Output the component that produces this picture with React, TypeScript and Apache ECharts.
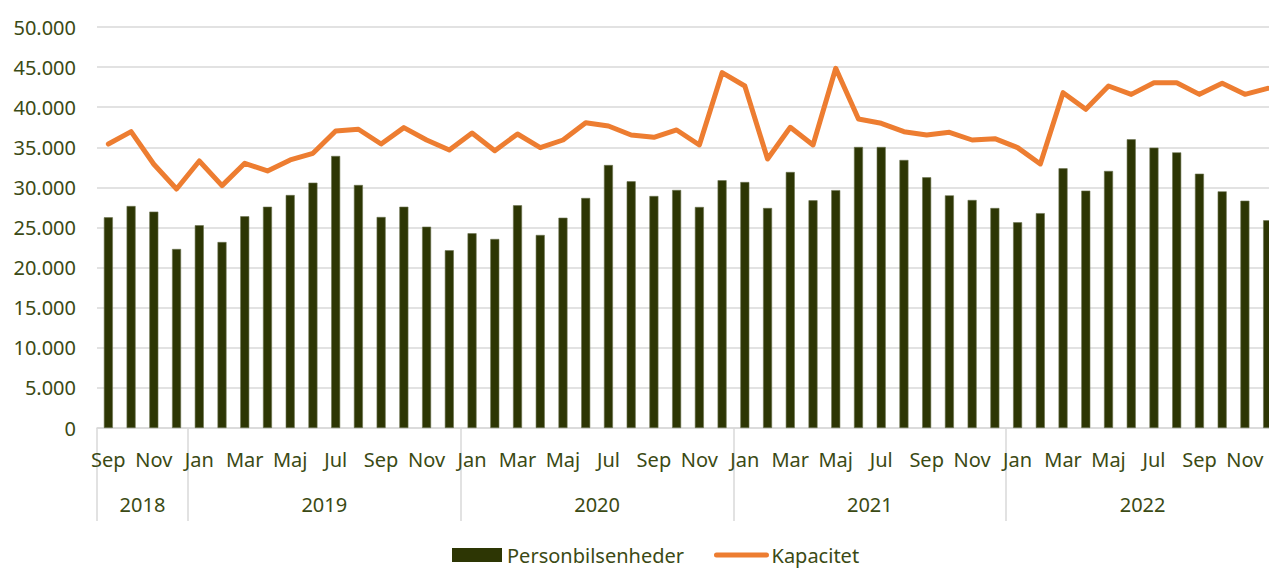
import React, { useEffect, useRef } from "react";
import * as echarts from "echarts";

const monthNames = ["Jan", "Feb", "Mar", "Apr", "Maj", "Jun", "Jul", "Aug", "Sep", "Okt", "Nov", "Dec"];
const years = ["2018", "2019", "2020", "2021", "2022"];

// Sep 2018 .. Dec 2022
const months: string[] = [
  "Sep", "Okt", "Nov", "Dec",
  ...monthNames, ...monthNames, ...monthNames, ...monthNames,
];
const monthYear: string[] = [
  "2018", "2018", "2018", "2018",
  ...monthNames.map(() => "2019"),
  ...monthNames.map(() => "2020"),
  ...monthNames.map(() => "2021"),
  ...monthNames.map(() => "2022"),
];

const personbilsenheder = [
  26270, 27680, 26980, 22320,
  25280, 23190, 26400, 27590, 29050, 30590, 33920, 30300, 26310, 27590, 25100, 22160,
  24280, 23570, 27770, 24070, 26220, 28680, 32790, 30760, 28930, 29680, 27560, 30890,
  30670, 27430, 31920, 28390, 29660, 35040, 35040, 33420, 31260, 29010, 28430, 27430,
  25650, 26790, 32380, 29600, 32050, 36000, 34960, 34370, 31710, 29510, 28340, 25900,
];

const kapacitet = [
  35410, 36950, 32880, 29800,
  33290, 30220, 33000, 32050, 33420, 34250, 37030, 37250, 35410, 37450, 35910, 34660,
  36780, 34580, 36660, 34960, 35910, 38070, 37660, 36530, 36240, 37160, 35290, 44310,
  42640, 33540, 37490, 35290, 44850, 38530, 37990, 36950, 36530, 36870, 35910, 36080,
  34960, 32920, 41810, 39740, 42640, 41600, 43060, 43060, 41600, 42980, 41600, 42350,
];

const yTicks = { min: 0, max: 50000, interval: 5000 };

const textColor = "#3B4A14";
const font = "Noto Sans";

export default function App() {
  const ref = useRef<HTMLDivElement>(null);
  useEffect(() => {
    if (!ref.current) return;
    const chart = echarts.init(ref.current, null, { renderer: "svg" });
    const boundaryIdx = new Set<number>();
    const labelIdx = new Map<number, string>();
    let start = 0;
    years.forEach((y) => {
      const n = monthYear.filter((m) => m === y).length;
      boundaryIdx.add(start);
      labelIdx.set(start + n / 2 - 1, y);
      start += n;
    });
    const plotWidth = 1279 - 97;
    const cat = plotWidth / months.length;
    chart.setOption({
      animation: false,
      grid: { left: 97, right: 0, top: 27, bottom: 140, containLabel: false },
      legend: {
        left: 447,
        top: 540,
        itemWidth: 50,
        itemHeight: 14,
        itemGap: 30,
        textStyle: { color: textColor, fontFamily: font, fontSize: 20 },
        data: [
          { name: "Personbilsenheder", icon: "rect", itemStyle: { borderWidth: 0 } },
          {
            name: "Kapacitet",
            itemStyle: { opacity: 0 },
            lineStyle: { width: 5, cap: "round", color: "#ED7D31" },
          },
        ],
      },
      xAxis: [
        {
          type: "category",
          data: months,
          position: "bottom",
          axisLine: { show: true, lineStyle: { color: "#d9d9d9", width: 1.5 } },
          axisTick: { show: false },
          axisLabel: {
            interval: 1,
            color: textColor,
            fontFamily: font,
            fontSize: 20,
            margin: 21,
          },
        },
        {
          type: "category",
          data: monthYear,
          position: "bottom",
          axisLine: { show: false },
          axisTick: {
            show: true,
            interval: (i: number) => boundaryIdx.has(i),
            length: 93,
            lineStyle: { color: "#d9d9d9", width: 1.5 },
          },
          axisLabel: {
            interval: (i: number) => labelIdx.has(i),
            color: textColor,
            fontFamily: font,
            fontSize: 20,
            margin: 66,
            padding: [0, 0, 0, cat],
          },
        },
      ],
      yAxis: {
        type: "value",
        min: yTicks.min,
        max: yTicks.max,
        interval: yTicks.interval,
        axisLine: { show: false },
        axisTick: { show: false },
        splitLine: { lineStyle: { color: "#d9d9d9", width: 1.5 } },
        axisLabel: {
          color: textColor,
          fontFamily: font,
          fontSize: 20,
          margin: 21,
          formatter: (v: number) => (v === 0 ? "0" : `${v / 1000}.000`),
        },
      },
      series: [
        {
          name: "Personbilsenheder",
          type: "bar",
          xAxisIndex: 0,
          data: personbilsenheder,
          barWidth: 9,
          itemStyle: { color: "#2D3604", borderColor: "#6B7350", borderWidth: 0.6 },
        },
        {
          name: "Kapacitet",
          type: "line",
          xAxisIndex: 0,
          data: kapacitet,
          symbol: "none",
          lineStyle: { color: "#ED7D31", width: 5, cap: "round", join: "round" },
          itemStyle: { color: "#ED7D31" },
        },
      ],
    });
    return () => chart.dispose();
  }, []);
  return (
    <div style={{ position: "fixed", left: 0, top: 0, width: 1269, height: 568, overflow: "hidden", background: "#fff" }}>
      <div ref={ref} style={{ width: 1279, height: 568 }} />
    </div>
  );
}
